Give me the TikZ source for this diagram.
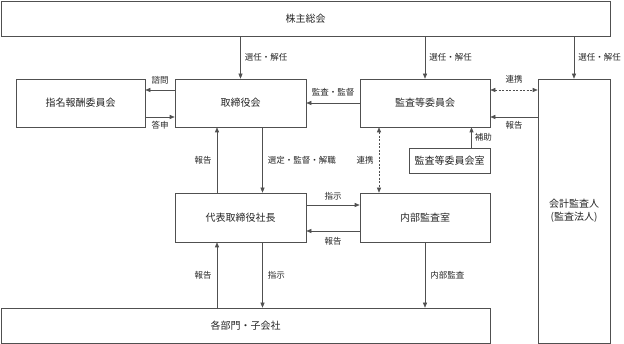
\documentclass[tikz,border=0pt]{standalone}
\usepackage{fontspec}
\setmainfont{Noto Sans CJK JP}
\usetikzlibrary{arrows.meta}
\definecolor{linegray}{HTML}{505050}

\begin{document}
\begin{tikzpicture}[x=1pt, y=-1pt, line width=0.6pt,
    box/.style={draw=linegray, fill=white, inner sep=0pt, align=center,
        font=\fontsize{10}{13}\selectfont, text=black!85},
    arr/.style={draw=linegray, -{Triangle[length=5pt,width=4pt]}},
    renkei/.style={draw=linegray, dash pattern=on 2pt off 1.5pt,
        {Triangle[length=5pt,width=4pt]}-{Triangle[length=5pt,width=4pt]}},
    lbl/.style={font=\fontsize{8.5}{10}\selectfont, text=black!85, inner sep=0pt}]
    \useasboundingbox (0,0) rectangle (624,344);

    % 株主総会 (上部の横長ボックス)
    \node[box, minimum width=609pt, minimum height=35pt] (soukai) at (305.5,18.5) {株主総会};

    % 中段の委員会など
    \node[box, minimum width=129pt, minimum height=48pt] (shimei) at (80.5,103) {指名報酬委員会};
    \node[box, minimum width=131pt, minimum height=48pt] (torishimari) at (240.5,103) {取締役会};
    \node[box, minimum width=130pt, minimum height=48pt] (kansa) at (425,103) {監査等委員会};
    \node[box, minimum width=81pt, minimum height=25pt] (kansashitsu) at (449.5,160.5) {監査等委員会室};
    \node[box, minimum width=131pt, minimum height=49pt] (daihyo) at (240.5,217.5) {代表取締役社長};
    \node[box, minimum width=130pt, minimum height=49pt] (naibu) at (425,217.5) {内部監査室};

    % 右側の縦長ボックス
    \node[box, minimum width=72pt, minimum height=264pt] (kaikei) at (574,211) {会計監査人\\(監査法人)};

    % 下部の横長ボックス
    \node[box, minimum width=489pt, minimum height=35pt] (kakubu) at (245.5,325.5) {各部門・子会社};

    % 株主総会からの選任・解任
    \draw[arr] (soukai.south -| torishimari.north) -- node[lbl, right=4pt] {選任・解任} (torishimari.north);
    \draw[arr] (soukai.south -| kansa.north) -- node[lbl, right=4pt] {選任・解任} (kansa.north);
    \draw[arr] (soukai.south -| kaikei.north) -- node[lbl, right=4pt] {選任・解任} (kaikei.north);

    % 諮問・答申
    \draw[arr] ([yshift=13pt]torishimari.west) -- node[lbl, above=5pt] {諮問} ([yshift=13pt]torishimari.west -| shimei.east);
    \draw[arr] ([yshift=-14pt]shimei.east) -- node[lbl, below=4pt] {答申} ([yshift=-14pt]shimei.east -| torishimari.west);

    % 監査等委員会まわり
    \draw[arr] (kansa.west) -- node[lbl, above=7pt] {監査・監督} (torishimari.east);
    \draw[renkei] ([yshift=13pt]kansa.east) -- node[lbl, above=6pt] {連携} ([yshift=13pt]kansa.east -| kaikei.west);
    \draw[arr] ([yshift=-14pt]kansa.east -| kaikei.west) -- node[lbl, below=4.5pt] {報告} ([yshift=-14pt]kansa.east);
    \draw[arr] ([xshift=22pt]kansashitsu.north) -- node[lbl, right=3pt] {補助} ([xshift=22pt]kansashitsu.north |- kansa.south);
    \draw[renkei] ([xshift=-46pt]kansa.south) -- node[lbl, left=5pt] {連携} ([xshift=-46pt]naibu.north);

    % 取締役会と代表取締役社長
    \draw[arr] ([xshift=-23.5pt]daihyo.north) -- node[lbl, left=5pt] {報告} ([xshift=-23.5pt]torishimari.south);
    \draw[arr] ([xshift=22pt]torishimari.south) -- node[lbl, right=5pt] {選定・監督・解職} ([xshift=22pt]daihyo.north);

    % 代表取締役社長と内部監査室
    \draw[arr] ([yshift=12.5pt]daihyo.east) -- node[lbl, above=5pt] {指示} ([yshift=12.5pt]daihyo.east -| naibu.west);
    \draw[arr] ([yshift=-13.5pt]naibu.west) -- node[lbl, below=6.5pt] {報告} ([yshift=-13.5pt]naibu.west -| daihyo.east);

    % 各部門・子会社へ
    \draw[arr] ([xshift=-23.5pt]daihyo.south |- kakubu.north) -- node[lbl, left=5pt] {報告} ([xshift=-23.5pt]daihyo.south);
    \draw[arr] ([xshift=22pt]daihyo.south) -- node[lbl, right=5pt] {指示} ([xshift=22pt]daihyo.south |- kakubu.north);
    \draw[arr] (naibu.south) -- node[lbl, right=5pt] {内部監査} (naibu.south |- kakubu.north);
\end{tikzpicture}
\end{document}
